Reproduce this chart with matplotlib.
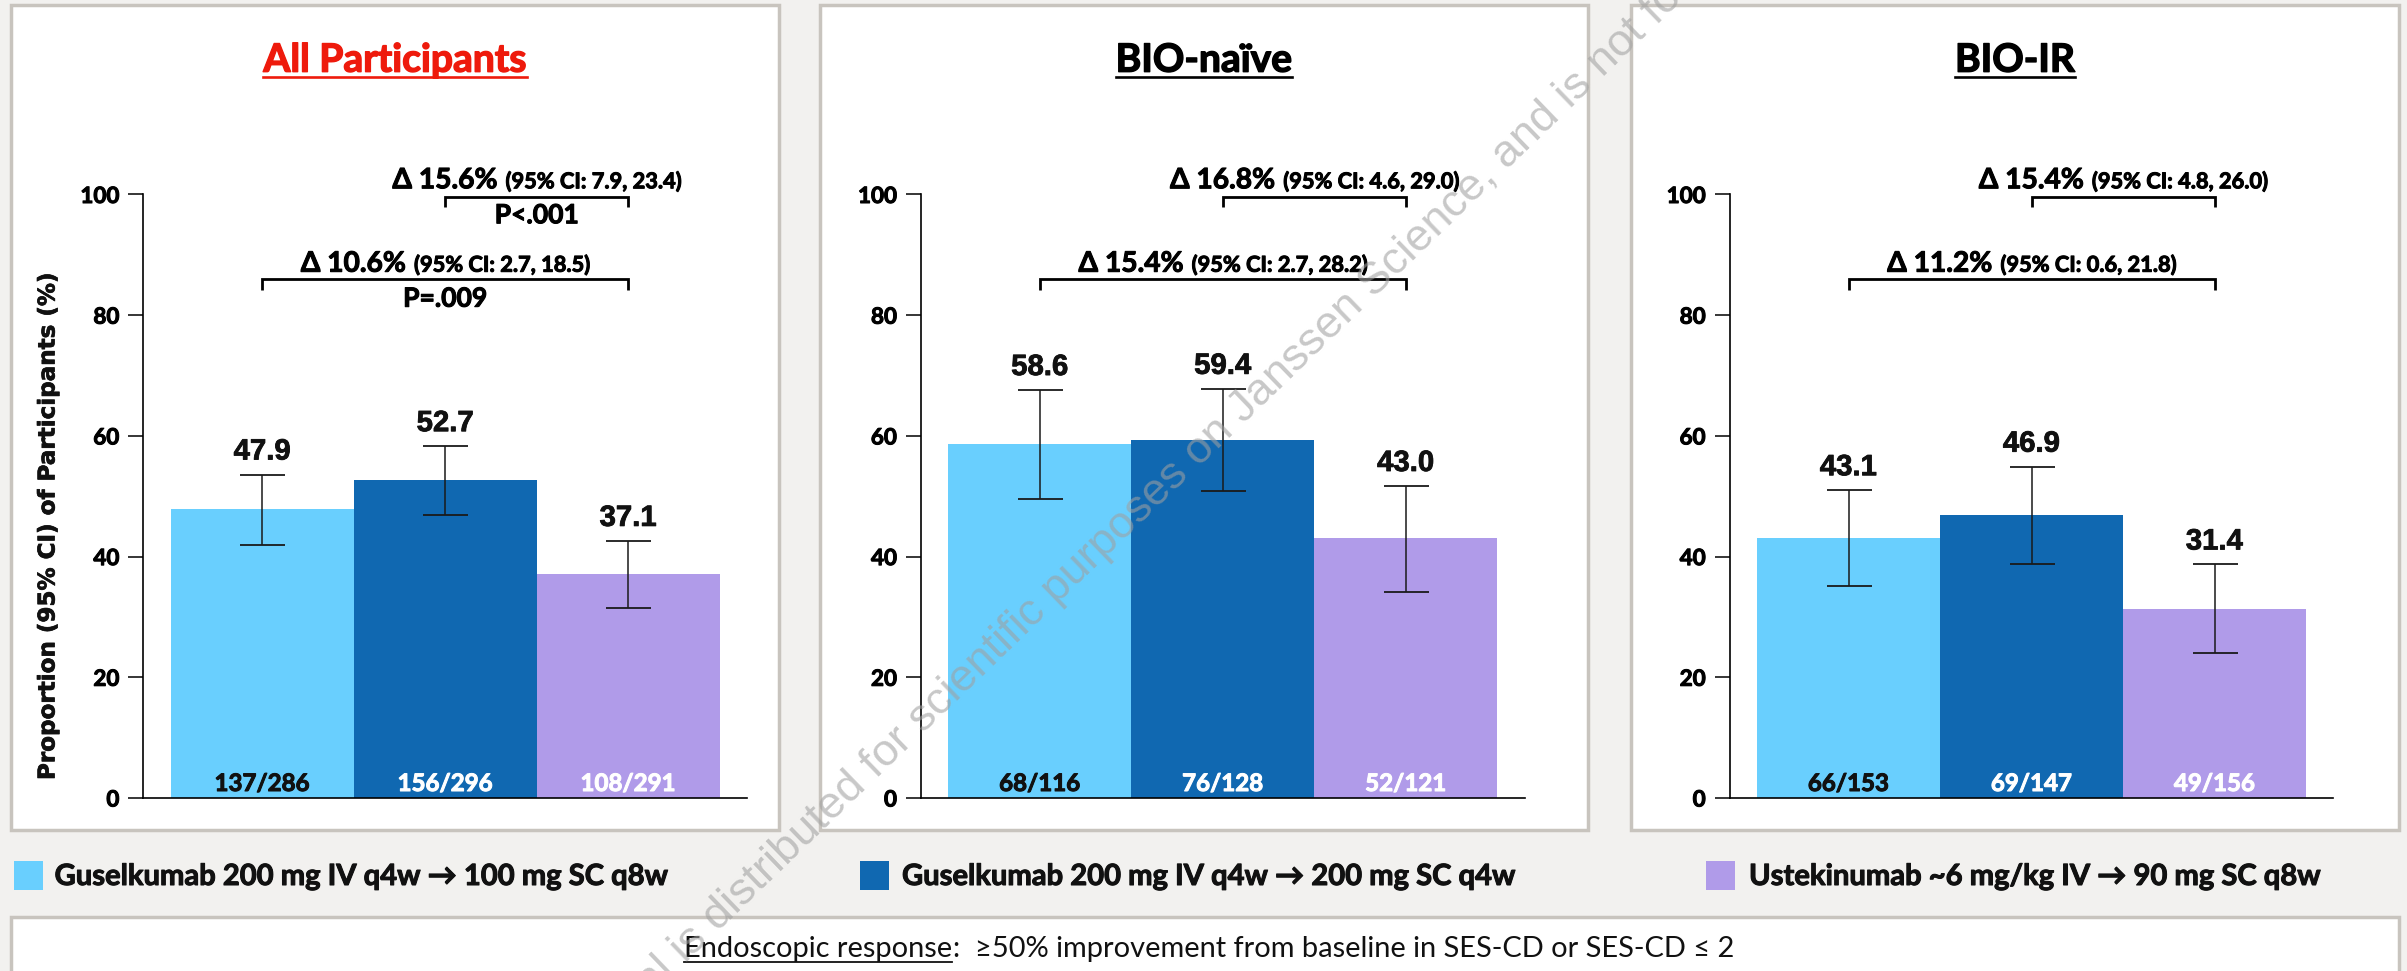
import numpy as np
import matplotlib
matplotlib.use("Agg")
import matplotlib.pyplot as plt
import matplotlib.patheffects as pe
from matplotlib.patches import Rectangle
from matplotlib.lines import Line2D

# ---------------- data ----------------
groups = ["All Participants", "BIO-naïve", "BIO-IR"]
treatments = [
    "Guselkumab 200 mg IV q4w \u2192 100 mg SC q8w",
    "Guselkumab 200 mg IV q4w \u2192 200 mg SC q4w",
    "Ustekinumab ~6 mg/kg IV \u2192 90 mg SC q8w",
]
colors = ["#69CFFE", "#1068B1", "#B09BE9"]

response_pct = [[47.9, 52.7, 37.1], [58.6, 59.4, 43.0], [43.1, 46.9, 31.4]]
ci_low = [[42.0, 46.9, 31.5], [49.6, 50.8, 34.2], [35.2, 38.8, 24.1]]
ci_high = [[53.6, 58.3, 42.6], [67.6, 67.8, 51.7], [51.0, 54.9, 38.7]]
responders = [["137/286", "156/296", "108/291"],
              ["68/116", "76/128", "52/121"],
              ["66/153", "69/147", "49/156"]]

# differences vs ustekinumab
delta_q4w = ["15.6", "16.8", "15.4"]
delta_q4w_ci = ["7.9, 23.4", "4.6, 29.0", "4.8, 26.0"]
delta_q4w_p = ["P<.001", "", ""]
delta_q8w = ["10.6", "15.4", "11.2"]
delta_q8w_ci = ["2.7, 18.5", "2.7, 28.2", "0.6, 21.8"]
delta_q8w_p = ["P=.009", "", ""]

yticks = [0, 20, 40, 60, 80, 100]
ylabel = "Proportion (95% CI) of Participants (%)"
footnote_term = "Endoscopic response"
footnote_rest = ":  \u226550% improvement from baseline in SES-CD or SES-CD \u2264 2"
watermark = ("This material is distributed for scientific purposes on Janssen Science, "
             "and is not for promotional use")

# ---------------- layout (pixels, measured from top-left) ----------------
W, H, DPI = 2407, 971, 100
BG = "#F2F1EF"
BORDER = "#C8C4BE"
CAL = ["Lato", "DejaVu Sans"]
ARI = ["Liberation Sans", "DejaVu Sans"]
VER = ["DejaVu Sans"]
THICK = [pe.withStroke(linewidth=0.75)]   # slightly heavier strokes for bold labels

box_left = [11, 820, 1631]
box_w = 768
box_top, box_bottom = 5, 830
axis_x = [143.4, 921.0, 1729.7]
bar_px = 183.0
side_gap = 27.3
y0_px, y100_px = 798.0, 194.5
px_per_unit = (y0_px - y100_px) / 100.0

fig = plt.figure(figsize=(W / DPI, H / DPI), dpi=DPI, facecolor=BG)
renderer = fig.canvas.get_renderer()


def fx(px):
    return px / W


def fy(py):
    return 1 - py / H


def measure(s, size, family, weight="bold"):
    t = fig.text(0, 0, s, fontsize=size, family=family, weight=weight)
    w = t.get_window_extent(renderer).width
    t.remove()
    return w


def fit(s, width_px, family, weight="bold"):
    return 40.0 * width_px / measure(s, 40.0, family, weight)


def ydata(py):
    return (y0_px - py) / px_per_unit


title_size = fit(groups[0], 263, CAL)
value_size = fit("47.9", 57, ARI)
count_size = fit(responders[0][0], 95, CAL)
big_size = fit("\u0394 15.6%", 105, CAL)
small_size = fit("(95% CI: 7.9, 23.4)", 176, CAL)
p_size = fit("P<.001", 84, CAL)
legend_size = fit(treatments[0], 613, CAL)
foot_size = fit(footnote_term, 268, CAL, "normal")
ylabel_size = fit(ylabel, 507, VER)
tick_size = fit("100", 39, CAL)


def delta_label(ax, xc, y, d, ci):
    big = f"\u0394 {d}%"
    small = f"(95% CI: {ci})"
    wb = measure(big, big_size, CAL)
    ws = measure(small, small_size, CAL)
    gap = 8
    total = wb + gap + ws
    kw = dict(xycoords="data", textcoords="offset pixels", ha="left", va="baseline",
              family=CAL, weight="bold", color="black", annotation_clip=False,
              path_effects=THICK)
    ax.annotate(big, (xc, y), xytext=(-total / 2, 0), fontsize=big_size, **kw)
    ax.annotate(small, (xc, y), xytext=(-total / 2 + wb + gap, 0), fontsize=small_size, **kw)


def bracket(ax, i, j, y_line, y_drop):
    ax.plot([i, i, j, j], [y_drop, y_line, y_line, y_drop], color="black", lw=2.0,
            clip_on=False, solid_capstyle="butt", solid_joinstyle="miter", zorder=4)


pad = side_gap / bar_px
axis_w = (3 + 2 * pad) * bar_px

for g in range(3):
    fig.add_artist(Rectangle((fx(box_left[g]), fy(box_bottom)), box_w / W,
                             (box_bottom - box_top) / H, transform=fig.transFigure,
                             facecolor="white", edgecolor=BORDER, lw=2.5, zorder=-1))

    ax = fig.add_axes([fx(axis_x[g]), fy(y0_px), axis_w / W, (y0_px - y100_px) / H])
    ax.set_facecolor("none")
    xs = np.arange(3)
    pct = np.array(response_pct[g])
    lo = pct - np.array(ci_low[g])
    hi = np.array(ci_high[g]) - pct

    ax.bar(xs, pct, width=1.0, color=colors, zorder=2)
    ax.errorbar(xs, pct, yerr=[lo, hi], fmt="none", ecolor="#1A1A1A",
                elinewidth=1.1, capsize=16.2, capthick=1.3, zorder=3)

    ax.set_xlim(-0.5 - pad, 2.5 + pad)
    ax.set_ylim(0, 100)
    ax.set_xticks([])
    ax.set_yticks(yticks)
    ax.set_yticklabels([str(t) for t in yticks])
    for lab in ax.get_yticklabels():
        lab.set_family(CAL)
        lab.set_weight("bold")
        lab.set_fontsize(tick_size)
        lab.set_path_effects(THICK)
    ax.tick_params(axis="y", direction="out", length=10.8, width=1.1, pad=6.5, colors="black")
    for side in ("top", "right"):
        ax.spines[side].set_visible(False)
    for side in ("left", "bottom"):
        ax.spines[side].set_linewidth(1.2)
        ax.spines[side].set_color("black")

    for k in range(3):
        ax.annotate(f"{pct[k]:.1f}", (xs[k], ci_high[g][k]), xytext=(0, 15),
                    textcoords="offset pixels", ha="center", va="baseline",
                    fontsize=value_size, family=ARI, weight="bold", color="#111111",
                    path_effects=[pe.withStroke(linewidth=0.6)])
        ax.annotate(responders[g][k], (xs[k], 0), xytext=(0, 7),
                    textcoords="offset pixels", ha="center", va="baseline",
                    fontsize=count_size, family=CAL, weight="bold",
                    color="#111111" if k == 0 else "white", zorder=5,
                    path_effects=THICK)

    # Guselkumab q4w vs ustekinumab (upper) and q8w vs ustekinumab (lower)
    bracket(ax, 1, 2, ydata(196.7), ydata(207.0))
    delta_label(ax, 1.5, ydata(188.3), delta_q4w[g], delta_q4w_ci[g])
    if delta_q4w_p[g]:
        ax.annotate(delta_q4w_p[g], (1.5, ydata(223.3)), ha="center", va="baseline",
                    fontsize=p_size, family=CAL, weight="bold", annotation_clip=False,
                    path_effects=THICK)
    bracket(ax, 0, 2, ydata(279.5), ydata(290.0))
    delta_label(ax, 1.0, ydata(271.7), delta_q8w[g], delta_q8w_ci[g])
    if delta_q8w_p[g]:
        ax.annotate(delta_q8w_p[g], (1.0, ydata(306.7)), ha="center", va="baseline",
                    fontsize=p_size, family=CAL, weight="bold", annotation_clip=False,
                    path_effects=THICK)

    # underlined panel title
    tcolor = "#EE1A0C" if g == 0 else "black"
    t = fig.text(fx(box_left[g] + box_w / 2), fy(71.7), groups[g], ha="center",
                 va="baseline", fontsize=title_size, family=CAL, weight="bold",
                 color=tcolor, path_effects=[pe.withStroke(linewidth=1.0)])
    bb = t.get_window_extent(renderer)
    fig.add_artist(Line2D([bb.x0 / W, bb.x1 / W], [fy(77.0), fy(77.0)],
                          transform=fig.transFigure, color=tcolor, lw=1.9))

fig.text(fx(48), fy(527), ylabel, rotation=90, ha="center", va="center",
         fontsize=ylabel_size, family=VER, weight="bold", color="#111111",
         path_effects=[pe.withStroke(linewidth=0.5)])

# legend row
sq_x = [14.3, 860.0, 1706.0]
txt_x = [54.6, 902.0, 1749.0]
for k in range(3):
    fig.add_artist(Rectangle((fx(sq_x[k]), fy(890)), 29 / W, 29 / H,
                             transform=fig.transFigure, facecolor=colors[k], lw=0))
    fig.text(fx(txt_x[k]), fy(885), treatments[k], ha="left", va="baseline",
             fontsize=legend_size, family=CAL, weight="bold", color="#111111",
             path_effects=THICK)

# definition box
fig.add_artist(Rectangle((fx(11), fy(1000)), (2399 - 11) / W, (1000 - 917) / H,
                         transform=fig.transFigure, facecolor="white",
                         edgecolor=BORDER, lw=2.5, zorder=-1))
ft = fig.text(fx(684), fy(956.7), footnote_term, ha="left", va="baseline",
              fontsize=foot_size, family=CAL, weight="normal", color="#111111")
fb = ft.get_window_extent(renderer)
fig.add_artist(Line2D([fb.x0 / W, fb.x1 / W], [fy(961.5), fy(961.5)],
                      transform=fig.transFigure, color="#111111", lw=1.3))
fig.text((fb.x1 + 1) / W, fy(956.7), footnote_rest, ha="left", va="baseline",
         fontsize=foot_size, family=CAL, weight="normal", color="#111111")

# diagonal distribution notice
wm_size = 32.5
theta = np.deg2rad(44)
prefix_w = (measure("This material is d", wm_size, ARI, "normal")
            - measure("d", wm_size, ARI, "normal"))
anchor_x, anchor_y = 718.0, H - 932.0
sx = anchor_x - prefix_w * np.cos(theta)
sy = anchor_y - prefix_w * np.sin(theta)
fig.text(sx / W, sy / H, watermark, rotation=44, rotation_mode="anchor", ha="left",
         va="baseline", fontsize=wm_size, family=ARI, color="#A0A0A0", alpha=0.58,
         zorder=100)

fig.savefig("out.png", dpi=DPI, facecolor=BG)
